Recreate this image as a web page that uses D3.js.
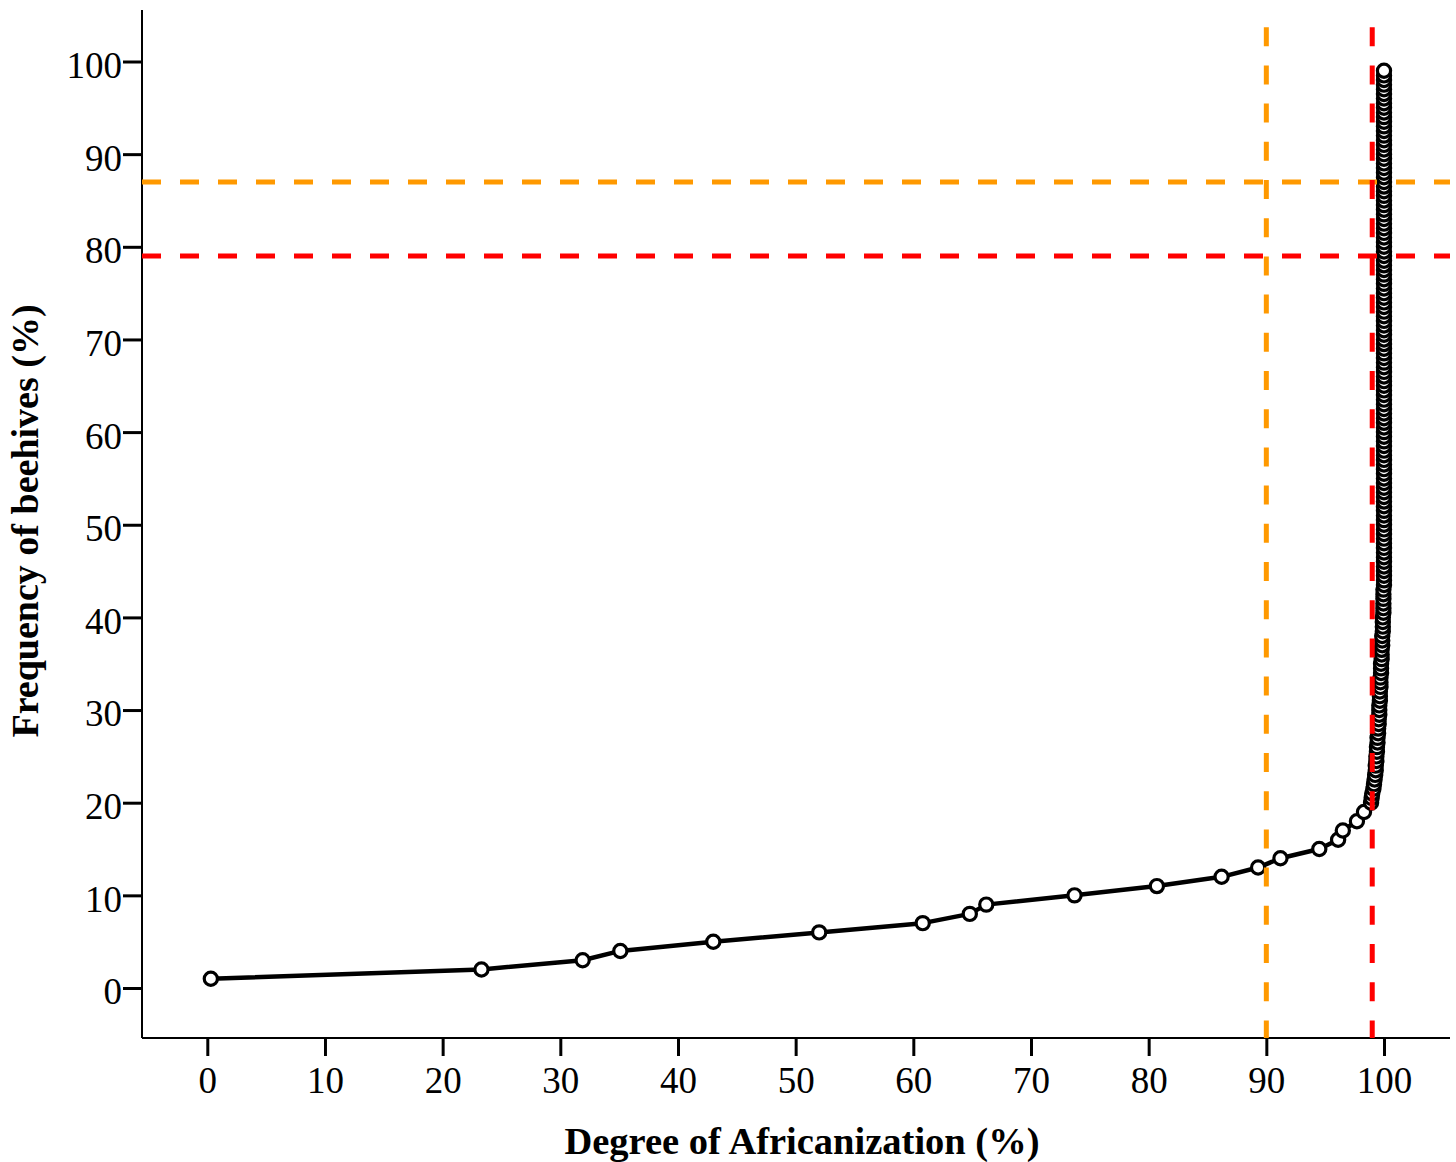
<!DOCTYPE html>
<html>
<head>
<meta charset="utf-8">
<script src="https://d3js.org/d3.v7.min.js"></script>
<style>
  body { margin: 0; background: #fff; }
  svg { display: block; font-family: "Liberation Serif", "Times New Roman", serif; }
</style>
</head>
<body>
<svg width="1456" height="1162"></svg>
<script>
// cumulative frequency of beehives (%) vs degree of africanization (%)
var frequency = [
  1,2,3,4,5,6,7,8,9,10,11,12,13,14,15,16,17,18,19,
  20,20.5,21,21.5,22,22.5,23,23.5,24,24.5,
  25,25.5,26,26.5,27,27.5,28,28.5,29,29.5,
  30,30.5,31,31.5,32,32.5,33,33.5,34,34.5,
  35,35.5,36,36.5,37,37.5,38,38.5,39,39.5,
  40,40.5,41,41.5,42,42.5,43,43.5,44,44.5,
  45,45.5,46,46.5,47,47.5,48,48.5,49,49.5,
  50,50.5,51,51.5,52,52.5,53,53.5,54,54.5,
  55,55.5,56,56.5,57,57.5,58,58.5,59,59.5,
  60,60.5,61,61.5,62,62.5,63,63.5,64,64.5,
  65,65.5,66,66.5,67,67.5,68,68.5,69,69.5,
  70,70.5,71,71.5,72,72.5,73,73.5,74,74.5,
  75,75.5,76,76.5,77,77.5,78,78.5,79,79.5,
  80,80.5,81,81.5,82,82.5,83,83.5,84,84.5,
  85,85.5,86,86.5,87,87.5,88,88.5,89,89.5,
  90,90.5,91,91.5,92,92.5,93,93.5,94,94.5,
  95,95.5,96,96.5,97,97.5,98,98.5,99
];
var degree = [
  0.3,23.3,31.9,35.1,43.0,52.0,60.8,64.8,66.2,73.7,80.7,86.2,89.3,91.2,94.5,96.1,96.5,97.7,98.3,
  98.9,98.95,99.0,99.1,99.15,99.2,99.25,99.3,99.3,99.35,
  99.35,99.4,99.4,99.45,99.45,99.5,99.5,99.55,99.55,99.6,
  99.6,99.6,99.65,99.65,99.65,99.7,99.7,99.7,99.75,99.75,
  99.75,99.8,99.8,99.8,99.85,99.85,99.85,99.9,99.9,99.9,
  99.9,99.95,99.95,99.95,99.95,99.95,99.95,100,100,100,
  100,100,100,100,100,100,100,100,100,100,
  100,100,100,100,100,100,100,100,100,100,
  100,100,100,100,100,100,100,100,100,100,
  100,100,100,100,100,100,100,100,100,100,
  100,100,100,100,100,100,100,100,100,100,
  100,100,100,100,100,100,100,100,100,100,
  100,100,100,100,100,100,100,100,100,100,
  100,100,100,100,100,100,100,100,100,100,
  100,100,100,100,100,100,100,100,100,100,
  100,100,100,100,100,100,100,100,100,100,
  100,100,100,100,100,100,100,100,100
];
var xTicks = [0,10,20,30,40,50,60,70,80,90,100];
var yTicks = [0,10,20,30,40,50,60,70,80,90,100];
// cut-offs [degree, frequency]
var orangeCut = [90, 87];
var redCut = [99, 79];

var svg = d3.select("svg");
var x = d3.scaleLinear().domain([0,100]).range([207.3,1384]);
var y = d3.scaleLinear().domain([0,100]).range([988,61.5]);
var xMin = x.invert(142), xMax = x.invert(1450);
var yMin = y.invert(1038), yMax = y.invert(10);
var dashTop = 103.7;

var points = degree.map(function(d,i){ return [d, frequency[i]]; });

//Axes
var gx = svg.append("g")
  .attr("transform","translate(0," + y(yMin) + ")")
  .call(d3.axisBottom(x).tickValues(xTicks).tickSize(18).tickPadding(11).tickSizeOuter(0));
gx.select(".domain").remove();
gx.attr("font-size",37).attr("font-family","Liberation Serif, serif");
gx.selectAll(".tick line").attr("stroke-width",3).attr("stroke","#000");
gx.selectAll(".tick text").attr("fill","#000");

var gy = svg.append("g")
  .attr("transform","translate(" + x(xMin) + ",0)")
  .call(d3.axisLeft(y).tickValues(yTicks).tickSize(19).tickPadding(1).tickSizeOuter(0));
gy.select(".domain").remove();
gy.attr("font-size",37).attr("font-family","Liberation Serif, serif");
gy.selectAll(".tick line").attr("stroke-width",3).attr("stroke","#000");
gy.selectAll(".tick text").attr("fill","#000").attr("dy","0.43em");

svg.append("line")
  .attr("x1",x(xMin)).attr("x2",x(xMin))
  .attr("y1",y(yMax)).attr("y2",y(yMin))
  .attr("stroke","#000").attr("stroke-width",2);
svg.append("line")
  .attr("x1",x(xMin)).attr("x2",x(xMax))
  .attr("y1",y(yMin)).attr("y2",y(yMin))
  .attr("stroke","#000").attr("stroke-width",2);

//Curve
svg.append("path")
  .datum(points)
  .attr("d", d3.line().x(function(d){return x(d[0]);}).y(function(d){return y(d[1]);}))
  .attr("fill","none")
  .attr("stroke","#000")
  .attr("stroke-width",4.5)
  .attr("stroke-linejoin","round");

svg.append("g").selectAll("circle")
  .data(points).enter().append("circle")
  .attr("cx",function(d){return x(d[0]);})
  .attr("cy",function(d){return y(d[1]);})
  .attr("r",6.6)
  .attr("fill","#fff")
  .attr("stroke","#000")
  .attr("stroke-width",3.2);

//Cut-off lines
[[orangeCut,"#FF9900"],[redCut,"#FF0000"]].forEach(function(c){
  svg.append("line")
    .attr("x1",x(c[0][0])).attr("x2",x(c[0][0]))
    .attr("y1",y(dashTop)).attr("y2",y(yMin))
    .attr("stroke",c[1]).attr("stroke-width",5)
    .attr("stroke-dasharray","19,19.2");
  svg.append("line")
    .attr("x1",x(xMin)).attr("x2",x(xMax))
    .attr("y1",y(c[0][1])).attr("y2",y(c[0][1]))
    .attr("stroke",c[1]).attr("stroke-width",5)
    .attr("stroke-dasharray","19,19");
});

//Titles
svg.append("text")
  .attr("x",802).attr("y",1154)
  .attr("text-anchor","middle")
  .attr("font-size",38.5).attr("font-weight","bold")
  .text("Degree of Africanization (%)");
svg.append("text")
  .attr("transform","translate(38,521) rotate(-90)")
  .attr("text-anchor","middle")
  .attr("font-size",38).attr("font-weight","bold")
  .text("Frequency of beehives (%)");
</script>
</body>
</html>
